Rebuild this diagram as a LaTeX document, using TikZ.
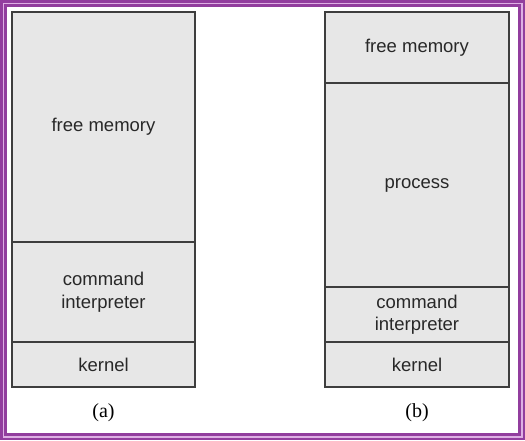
\documentclass[tikz,border=0pt]{standalone}
\usepackage{fontspec}
\newfontfamily\boxfont{Liberation Sans}
\newfontfamily\capfont{Liberation Serif}
\definecolor{framepurple}{RGB}{146,62,158}
\definecolor{framelight}{RGB}{222,176,228}
\definecolor{memfill}{RGB}{231,231,231}
\definecolor{memline}{RGB}{62,62,62}
\definecolor{memtext}{RGB}{40,40,40}
\begin{document}
\begin{tikzpicture}[x=1pt,y=-1pt,
  membox/.style={draw=memline, fill=memfill, text=memtext, line width=1.4pt, align=center, inner sep=0pt, outer sep=0pt,
    font=\boxfont\fontsize{18.5}{22.5}\selectfont},
  caption/.style={font=\capfont\fontsize{20}{24}\selectfont}]
% frame
\fill[framepurple] (0,0) rectangle (525,440);
\fill[framelight] (2.5,2.5) rectangle (522.5,437.5);
\fill[framepurple] (4,4) rectangle (521,436);
\fill[white] (7,7) rectangle (518,433);
% (a)
\node[membox, minimum width=183pt, minimum height=230pt] (afree) at (103.5,127) {free memory};
\node[membox, minimum width=183pt, minimum height=100pt] (acmd) at (103.5,292) {command\\interpreter};
\node[membox, minimum width=183pt, minimum height=45pt] (akern) at (103.5,364.5) {kernel};
\node[caption] (alabel) at (103.5,413) {(a)};
% (b)
\node[membox, minimum width=184pt, minimum height=71pt] (bfree) at (417,47.5) {free memory};
\node[membox, minimum width=184pt, minimum height=204pt] (bproc) at (417,185) {process};
\node[membox, minimum width=184pt, minimum height=55pt] (bcmd) at (417,314.5) {command\\interpreter};
\node[membox, minimum width=184pt, minimum height=45pt] (bkern) at (417,364.5) {kernel};
\node[caption] (blabel) at (417,413) {(b)};
\end{tikzpicture}
\end{document}
